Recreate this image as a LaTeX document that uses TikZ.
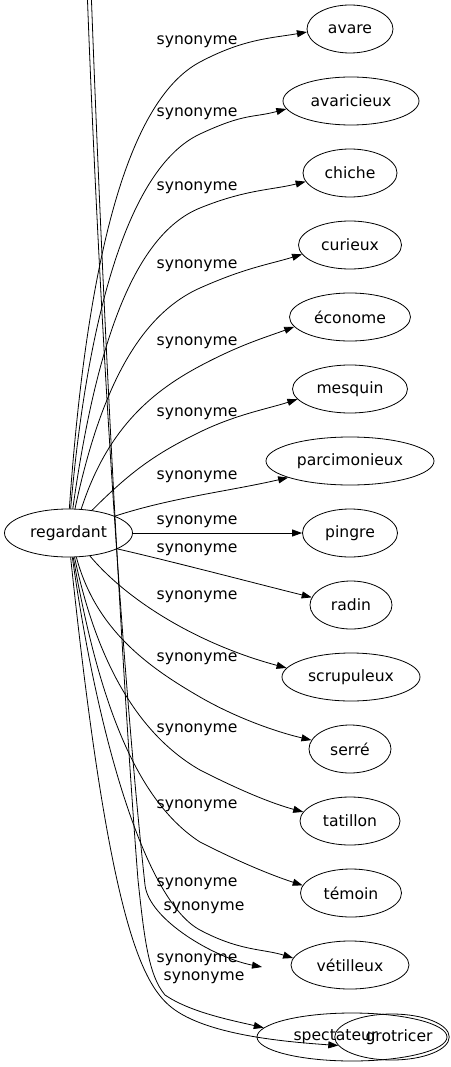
\documentclass[tikz,border=0pt]{standalone}
\usepackage{fontspec}
\setmainfont{DejaVu Sans}
\usetikzlibrary{shapes.geometric,arrows.meta}
\newcommand{\gvfont}{\fontsize{15.6}{18}\selectfont}
\begin{document}
\begin{tikzpicture}[x=1pt,y=1pt,
  term/.style={ellipse, draw, line width=0.8pt, minimum height=48pt, inner sep=0pt, font=\gvfont},
  lbl/.style={inner sep=0pt, font=\gvfont},
  syn/.style={draw, line width=0.8pt, -{Triangle[length=10pt,width=7pt]}},
]
\useasboundingbox (0,0) rectangle (450,-1067);
\clip (0,0) rectangle (450,-1067);

% nodes
\node[term, minimum width=128pt] (regardant) at (68.5,-533) {regardant};
\node[term, minimum width=86pt] (avare) at (350,-29) {avare};
\node[term, minimum width=136pt] (avaricieux) at (351,-101) {avaricieux};
\node[term, minimum width=94pt] (chiche) at (350,-173) {chiche};
\node[term, minimum width=103pt] (curieux) at (350,-245) {curieux};
\node[term, minimum width=121pt] (econome) at (350,-317) {économe};
\node[term, minimum width=115pt] (mesquin) at (350,-389) {mesquin};
\node[term, minimum width=168pt] (parcimonieux) at (350,-461) {parcimonieux};
\node[term, minimum width=95pt] (pingre) at (350,-533) {pingre};
\node[term, minimum width=82pt] (radin) at (351,-605) {radin};
\node[term, minimum width=138pt] (scrupuleux) at (351,-677) {scrupuleux};
\node[term, minimum width=82pt] (serre) at (350,-749) {serré};
\node[term, minimum width=100pt] (tatillon) at (350,-821) {tatillon};
\node[term, minimum width=101pt] (temoin) at (351,-893) {témoin};
\node[term, minimum width=118pt] (vetilleux) at (350,-965) {vétilleux};
\node[term, minimum width=190pt] (big) at (352,-1037) {spectateur\hspace*{33pt}};
\node[term, minimum width=104pt, minimum height=46pt] (small) at (392,-1037) {\hspace*{14pt}grotricer};

\coordinate (offA) at (86,40);
\coordinate (offB) at (90,40);
\coordinate (freeA) at (262,-967);

% edge labels
\node[lbl] (l1) at (197,-42) {synonyme};
\node[lbl] (l2) at (197,-114) {synonyme};
\node[lbl] (l3) at (197,-188) {synonyme};
\node[lbl] (l4) at (197,-266) {synonyme};
\node[lbl] (l5) at (197,-343) {synonyme};
\node[lbl] (l6) at (197,-414) {synonyme};
\node[lbl] (l7) at (197,-477) {synonyme};
\node[lbl] (l8) at (197,-522) {synonyme};
\node[lbl] (l9) at (197,-550) {synonyme};
\node[lbl] (l10) at (197,-597) {synonyme};
\node[lbl] (l11) at (197,-659) {synonyme};
\node[lbl] (l12) at (197,-730) {synonyme};
\node[lbl] (l13) at (197,-806) {synonyme};
\node[lbl] (l14) at (197,-884) {synonyme};
\node[lbl] (l15) at (204,-908) {synonyme};
\node[lbl] (l16) at (197,-960) {synonyme};
\node[lbl] (l17) at (204,-978) {synonyme};

% upper edges
\draw[syn] (regardant.88) .. controls +(86:240) and +(208:85) .. (200,-62) .. controls +(28:50) and +(190:35) .. (avare.184);
\draw[syn] (regardant.85) .. controls +(85:190) and +(205:80) .. (200,-134) .. controls +(25:50) and +(195:35) .. (avaricieux.187);
\draw[syn] (regardant.80) .. controls +(82:155) and +(202:75) .. (200,-208) .. controls +(22:50) and +(194:35) .. (chiche.191);
\draw[syn] (regardant.75) .. controls +(78:115) and +(204:70) .. (200,-288) .. controls +(24:50) and +(197:35) .. (curieux.191);
\draw[syn] (regardant.62) .. controls +(72:80) and +(208:60) .. (200,-366) .. controls +(28:45) and +(200:32) .. (econome.190);
\draw[syn] (regardant.44) .. controls +(45:55) and +(206:50) .. (200,-432) .. controls +(26:40) and +(198:30) .. (mesquin.191);
\draw[syn] (regardant.20) .. controls +(18:60) and +(193:60) .. (parcimonieux.195);
\draw[syn] (regardant) -- (pingre);

% lower edges
\draw[syn] (regardant.342) .. controls +(-13:60) and +(166:60) .. (radin.169);
\draw[syn] (regardant.313) .. controls +(-50:60) and +(165:90) .. (scrupuleux.172);
\draw[syn] (regardant.288) .. controls +(-75:75) and +(150:60) .. (200,-697) .. controls +(-30:45) and +(167:32) .. (serre.167);
\draw[syn] (regardant.284) .. controls +(-78:110) and +(150:70) .. (200,-770) .. controls +(-27:45) and +(165:32) .. (tatillon.169);
\draw[syn] (regardant.281) .. controls +(-80:150) and +(147:75) .. (200,-842) .. controls +(-27:45) and +(162:32) .. (temoin.171);
\draw[syn] (regardant.279) .. controls +(-82:190) and +(152:60) .. (200,-930) .. controls +(-28:45) and +(163:32) .. (vetilleux.173);
\draw[syn] (regardant.275) .. controls +(-84:370) and +(145:40) .. (175,-1010) .. controls +(-35:45) and +(176:50) .. (small.189);

% long edges entering from above
\draw[syn] (offA) .. controls (100,-350) and (125,-700) .. (145,-885) .. controls (149,-920) and (215,-958) .. (freeA);
\draw[syn] (offB) .. controls (104,-350) and (124,-700) .. (138,-880) .. controls (144,-935) and (148,-975) .. (165,-995) .. controls (190,-1012) and (230,-1020) .. (big.174);
\end{tikzpicture}
\end{document}
